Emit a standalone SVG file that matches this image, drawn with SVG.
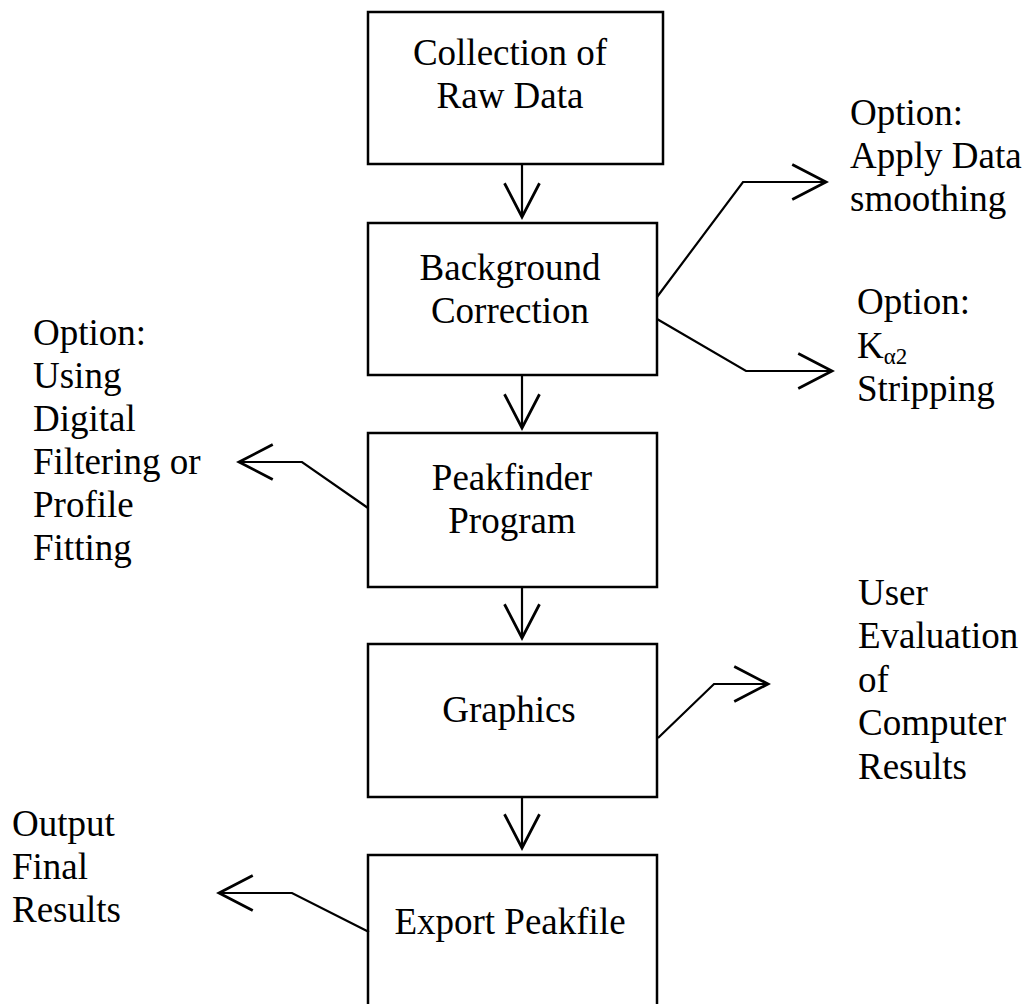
<svg xmlns="http://www.w3.org/2000/svg" width="1027" height="1004" viewBox="0 0 1027 1004">
<style>
.box{fill:#fff;stroke:#000;stroke-width:2.5}
.t{font-family:"Liberation Serif","Times New Roman",serif;font-size:37px;fill:#000}
.c{text-anchor:middle}
.sub{font-size:23px}
.con{fill:none;stroke:#000;stroke-width:2.2}
</style>
<defs>
<marker id="ah" markerUnits="userSpaceOnUse" markerWidth="40" markerHeight="40" viewBox="-30 -16 32 32" refX="0" refY="0" orient="auto" overflow="visible">
<path d="M -27 -14 L 0 0 L -27 14" fill="none" stroke="#000" stroke-width="2.2"/>
</marker>
</defs>
<rect width="1027" height="1004" fill="#fff"/>
<g id="n1"><rect class="box" x="368" y="12" width="295" height="152"/><text class="t c" x="510" y="65">Collection of</text><text class="t c" x="510" y="108">Raw Data</text></g>
<g id="n2"><rect class="box" x="368" y="223" width="289" height="152"/><text class="t c" x="510" y="280">Background</text><text class="t c" x="510" y="323">Correction</text></g>
<g id="n3"><rect class="box" x="368" y="433" width="289" height="154"/><text class="t c" x="512" y="490">Peakfinder</text><text class="t c" x="512" y="533">Program</text></g>
<g id="n4"><rect class="box" x="368" y="644" width="289" height="153"/><text class="t c" x="509" y="722">Graphics</text></g>
<g id="n5"><rect class="box" x="368" y="855" width="289" height="160"/><text class="t c" x="510" y="934">Export Peakfile</text></g>
<g id="l1"><text class="t" x="850" y="125">Option:</text><text class="t" x="850" y="168">Apply Data</text><text class="t" x="850" y="211">smoothing</text></g>
<g id="l2"><text class="t" x="857" y="314">Option:</text><text class="t" x="857" y="358">K<tspan class="sub" dy="6">α2</tspan></text><text class="t" x="857" y="401">Stripping</text></g>
<g id="l3"><text class="t" x="33" y="345">Option:</text><text class="t" x="33" y="388">Using</text><text class="t" x="33" y="431">Digital</text><text class="t" x="33" y="474">Filtering or</text><text class="t" x="33" y="517">Profile</text><text class="t" x="33" y="560">Fitting</text></g>
<g id="l4"><text class="t" x="858" y="605">User</text><text class="t" x="858" y="648">Evaluation</text><text class="t" x="858" y="692">of</text><text class="t" x="858" y="735">Computer</text><text class="t" x="858" y="779">Results</text></g>
<g id="l5"><text class="t" x="12" y="836">Output</text><text class="t" x="12" y="879">Final</text><text class="t" x="12" y="922">Results</text></g>
<g id="connectors">
<path class="con" d="M522 164 V217" marker-end="url(#ah)"/>
<path class="con" d="M522 375 V428" marker-end="url(#ah)"/>
<path class="con" d="M522 587 V638" marker-end="url(#ah)"/>
<path class="con" d="M522 797 V848" marker-end="url(#ah)"/>
<path class="con" d="M657 297 L743 182 H826" marker-end="url(#ah)"/>
<path class="con" d="M657 319 L746 371 H832" marker-end="url(#ah)"/>
<path class="con" d="M368 508 L302 462 H239" marker-end="url(#ah)"/>
<path class="con" d="M658 738 L714 684 H768" marker-end="url(#ah)"/>
<path class="con" d="M369 932 L292 893 H219" marker-end="url(#ah)"/>
</g>
</svg>
